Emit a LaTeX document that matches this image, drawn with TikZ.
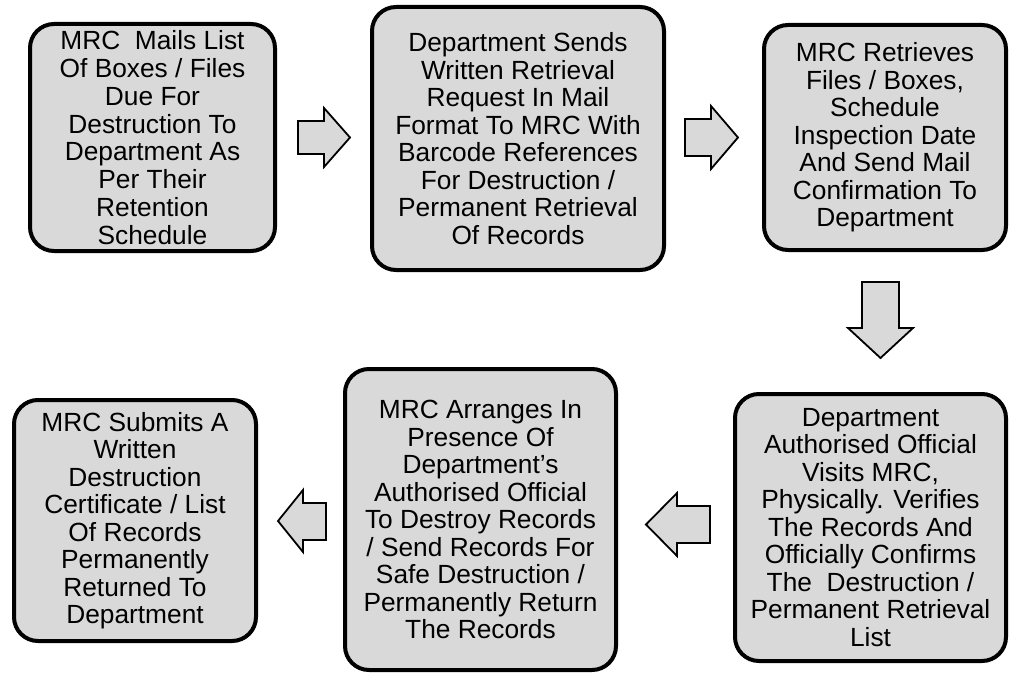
\documentclass[tikz,border=0pt]{standalone}
\usepackage{fontspec}
\setmainfont{Liberation Sans}
\definecolor{boxgray}{HTML}{D9D9D9}
\tikzset{
  procbox/.style={draw=black, line width=4pt, fill=boxgray, rounded corners=24pt,
    align=center, inner sep=0pt, font=\fontsize{26.3}{27.5}\selectfont},
  blockarrow/.style={draw=black, line width=1.8pt, fill=boxgray, line join=miter}
}
\begin{document}
\begin{tikzpicture}[x=1pt,y=-1pt]
\useasboundingbox (0,0) rectangle (1010,674);
% boxes
\node[procbox, minimum width=245pt, minimum height=227pt, font=\fontsize{26.3}{27.8}\selectfont] (b1) at (152.5,137.5)
  {MRC\ \ Mails List\\Of Boxes / Files\\Due For\\Destruction To\\Department As\\Per Their\\Retention\\Schedule};
\node[procbox, minimum width=292pt, minimum height=263pt] (b2) at (518,138.5)
  {Department Sends\\Written Retrieval\\Request In Mail\\Format To MRC With\\Barcode References\\For Destruction /\\Permanent Retrieval\\Of Records};
\node[procbox, minimum width=242pt, minimum height=225pt] (b3) at (885,137.5)
  {MRC Retrieves\\Files / Boxes,\\Schedule\\Inspection Date\\And Send Mail\\Confirmation To\\Department};
\node[procbox, minimum width=271pt, minimum height=267pt] (b4) at (870.5,527.5)
  {Department\\Authorised Official\\Visits MRC,\\Physically. Verifies\\The Records And\\Officially Confirms\\The\ \ Destruction /\\Permanent Retrieval\\List};
\node[procbox, minimum width=271pt, minimum height=301pt] (b5) at (480.5,519.5)
  {MRC Arranges In\\Presence Of\\Department’s\\Authorised Official\\To Destroy Records\\/ Send Records For\\Safe Destruction /\\Permanently Return\\The Records};
\node[procbox, minimum width=242pt, minimum height=241pt] (b6) at (135,520.5)
  {MRC Submits A\\Written\\Destruction\\Certificate / List\\Of Records\\Permanently\\Returned To\\Department};
% block arrows
\filldraw[blockarrow] (298,121) -- (324,121) -- (324,108) -- (350,137.5) -- (324,167) -- (324,154) -- (298,154) -- cycle;
\filldraw[blockarrow] (685,119) -- (711,119) -- (711,106) -- (738,137.5) -- (711,169) -- (711,156) -- (685,156) -- cycle;
\filldraw[blockarrow] (862,282) -- (899,282) -- (899,328) -- (913,328) -- (880.5,358) -- (848,328) -- (862,328) -- cycle;
\filldraw[blockarrow] (710,506) -- (677,506) -- (677,493) -- (646,524.5) -- (677,556) -- (677,543) -- (710,543) -- cycle;
\filldraw[blockarrow] (326,503) -- (303,503) -- (303,490) -- (278,521) -- (303,552) -- (303,540) -- (326,540) -- cycle;
\end{tikzpicture}
\end{document}
